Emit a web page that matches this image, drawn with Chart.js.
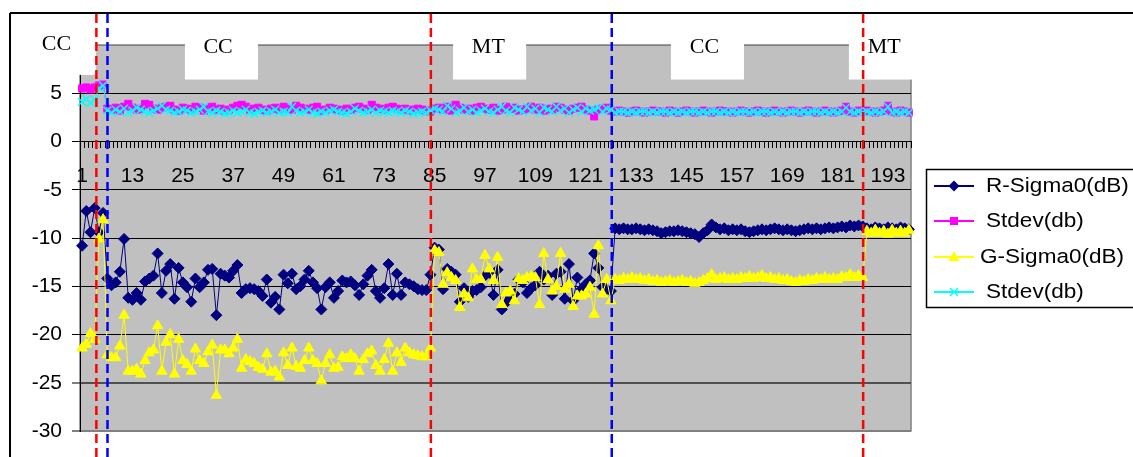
<!DOCTYPE html>
<html><head><meta charset="utf-8">
<script src="https://cdn.jsdelivr.net/npm/chart.js@4.4.0/dist/chart.umd.min.js"></script>
<style>html,body{margin:0;padding:0;background:#fff;}#wrap{position:relative;width:1133px;height:457px;}</style>
</head><body><div id="wrap"><canvas id="c" width="1133" height="457"></canvas></div>
<script>
// ---- data ----
const categories = [];
for (let i = 1; i <= 198; i++) categories.push(String(i));
const xLabelEvery = 12;
const yMin = -30, yMax = 10, yStep = 5;

const rSigma0 = [
 -10.8,-7.2,-9.4,-6.9,-9.4,-7.4,-14.2,-14.9,-14.6,-13.5,
 -10.1,-16.2,-16.4,-15.7,-16.4,-14.5,-14.2,-13.9,-11.6,-15.7,
 -13.4,-12.7,-16.3,-13.1,-14.6,-15.1,-16.6,-14.2,-15.1,-14.6,
 -13.3,-13.2,-18.0,-13.7,-13.9,-14.1,-13.4,-12.8,-15.7,-15.3,
 -15.2,-15.3,-15.5,-16.0,-14.3,-16.7,-16.1,-17.4,-13.8,-14.7,
 -13.7,-15.3,-15.0,-14.3,-13.4,-14.6,-15.2,-17.4,-15.1,-14.6,
 -16.2,-15.5,-14.4,-14.6,-14.5,-14.9,-15.9,-14.8,-13.9,-13.3,
 -15.5,-16.2,-15.2,-12.7,-15.9,-13.7,-15.9,-14.6,-14.8,-15.0,
 -15.3,-15.4,-15.4,-13.8,-11.0,-11.2,-15.3,-13.2,-13.5,-13.8,
 -16.6,-15.2,-16.1,-15.5,-15.4,-15.1,-13.9,-13.6,-15.9,-13.3,
 -17.4,-16.7,-16.1,-15.8,-14.3,-14.6,-15.7,-15.2,-14.9,-13.5,
 -14.3,-13.9,-15.9,-13.7,-13.5,-16.3,-12.7,-16.5,-14.1,-15.3,
 -14.8,-14.4,-11.6,-13.1,-15.1,-15.3,-15.5,-9.0,-9.1,-9.0,
 -9.1,-9.1,-9.0,-9.1,-9.2,-9.1,-9.2,-9.3,-9.5,-9.4,
 -9.3,-9.3,-9.2,-9.3,-9.4,-9.5,-9.6,-9.9,-9.5,-9.2,
 -8.6,-8.9,-9.1,-9.0,-9.2,-9.1,-9.2,-9.1,-9.3,-9.4,
 -9.3,-9.2,-9.1,-9.2,-9.1,-9.0,-9.1,-9.2,-9.1,-9.2,
 -9.3,-9.2,-9.1,-9.0,-9.1,-9.0,-9.1,-9.0,-8.9,-9.0,
 -8.9,-8.8,-8.9,-8.7,-8.8,-8.7,-8.8,-9.0,-9.1,-8.9,
 -9.0,-9.1,-8.9,-9.0,-9.1,-8.9,-9.0,-9.1
];
const stdevR = [
 5.5,5.6,5.4,5.6,5.8,5.9,3.4,3.3,3.5,3.2,
 3.6,3.9,3.5,3.3,3.4,3.9,3.8,3.4,3.3,3.5,
 3.6,3.7,3.3,3.2,3.5,3.4,3.3,3.6,3.5,3.2,
 3.4,3.6,3.3,3.4,3.2,3.3,3.5,3.7,3.8,3.6,
 3.3,3.4,3.5,3.3,3.2,3.4,3.5,3.3,3.6,3.4,
 3.3,3.7,3.5,3.4,3.3,3.5,3.6,3.2,3.3,3.5,
 3.4,3.3,3.2,3.4,3.3,3.5,3.6,3.4,3.3,3.8,
 3.5,3.4,3.3,3.5,3.6,3.4,3.3,3.4,3.2,3.3,
 3.4,3.3,3.2,3.1,3.4,3.5,3.3,3.6,3.2,3.8,
 3.5,3.3,3.4,3.2,3.5,3.6,3.4,3.3,3.5,3.2,
 3.3,3.6,3.4,3.5,3.2,3.3,3.4,3.6,3.3,3.5,
 3.2,3.4,3.3,3.6,3.5,3.3,3.2,3.4,3.5,3.6,
 3.3,3.2,2.6,3.3,3.4,3.5,3.2,3.1,3.2,3.1,
 3.0,3.1,3.2,3.1,3.0,3.1,3.2,3.1,3.1,3.0,
 3.2,3.1,3.0,3.1,3.2,3.1,3.0,3.1,3.2,3.1,
 3.0,3.1,3.2,3.1,3.1,3.0,3.1,3.2,3.1,3.0,
 3.1,3.2,3.1,3.0,3.1,3.2,3.1,3.0,3.1,3.2,
 3.1,3.0,3.1,3.2,3.1,3.0,3.1,3.2,3.1,3.0,
 3.1,3.2,3.6,3.1,3.0,3.2,3.1,3.2,3.1,3.0,
 3.1,3.2,3.7,3.1,3.0,3.2,3.1,3.0
];
const gSigma0 = [
 -21.4,-21.0,-19.9,-20.5,-10.1,-8.1,-22.1,-22.4,-22.4,-21.2,
 -18.0,-23.8,-23.8,-23.6,-24.1,-22.7,-21.9,-21.6,-19.1,-23.8,
 -20.8,-20.0,-24.1,-20.5,-22.7,-23.1,-23.8,-21.5,-22.7,-23.0,
 -21.8,-21.1,-26.3,-21.6,-21.6,-22.0,-21.4,-20.5,-23.5,-22.6,
 -22.8,-23.0,-23.4,-23.6,-22.0,-23.9,-23.8,-24.4,-21.9,-23.2,
 -21.4,-23.3,-23.5,-22.7,-21.4,-22.7,-23.0,-24.8,-23.0,-22.1,
 -23.5,-23.4,-22.3,-22.5,-22.1,-22.5,-23.8,-22.6,-22.0,-21.7,
 -23.2,-23.8,-22.6,-20.9,-23.8,-21.9,-22.9,-21.4,-21.9,-22.1,
 -22.2,-22.3,-22.3,-21.4,-11.3,-11.5,-14.8,-13.6,-14.1,-14.4,
 -17.2,-15.8,-16.2,-13.2,-14.3,-14.3,-11.8,-13.2,-14.4,-12.0,
 -16.9,-15.7,-15.5,-16.5,-14.2,-14.4,-14.1,-14.0,-14.1,-16.9,
 -11.6,-14.3,-15.5,-15.0,-11.6,-15.3,-14.8,-17.1,-16.0,-16.0,
 -15.8,-15.1,-17.9,-10.8,-15.8,-14.3,-16.5,-14.3,-14.4,-14.2,
 -14.3,-14.1,-14.3,-14.2,-14.4,-14.3,-14.5,-14.4,-14.6,-14.5,
 -14.4,-14.6,-14.5,-14.4,-14.6,-14.5,-14.7,-14.6,-14.4,-14.2,
 -13.8,-14.3,-14.2,-14.1,-14.3,-14.2,-14.3,-14.1,-14.2,-14.0,
 -14.2,-14.1,-13.9,-14.2,-14.1,-14.3,-14.2,-14.4,-14.3,-14.5,
 -14.6,-14.4,-14.5,-14.3,-14.4,-14.2,-14.3,-14.1,-14.3,-14.2,
 -14.3,-14.0,-14.1,-13.8,-14.1,-13.9,-14.1,-9.3,-9.5,-9.2,
 -9.5,-9.3,-9.6,-9.2,-9.5,-9.3,-9.5,-9.2
];
const stdevG = [
 4.1,4.4,4.0,4.3,5.5,5.8,3.2,3.0,3.3,3.1,
 3.4,3.0,3.2,3.5,3.3,3.1,3.0,3.2,3.4,3.7,
 3.3,3.2,3.0,3.1,3.3,3.2,3.0,3.1,3.3,3.6,
 3.1,3.0,3.2,3.1,2.9,3.0,3.2,3.0,3.1,3.3,
 3.0,2.9,3.1,3.2,3.0,3.1,3.3,3.0,3.1,3.0,
 3.6,3.2,3.0,3.1,3.3,3.0,2.9,3.1,3.0,3.2,
 3.3,3.1,3.0,2.9,3.1,3.4,3.2,3.0,3.1,3.3,
 3.0,3.2,3.1,3.0,3.2,3.1,3.0,3.2,3.1,2.9,
 3.0,3.1,3.0,3.2,3.4,3.3,3.1,3.7,3.4,3.0,
 3.2,3.5,3.1,3.3,3.0,3.2,3.4,3.1,3.0,3.3,
 3.6,3.2,3.0,3.5,3.3,3.1,3.6,3.2,3.4,3.0,
 3.5,3.3,3.1,3.6,3.2,3.4,3.0,3.3,3.5,3.1,
 3.4,3.2,3.3,3.5,3.1,3.4,3.3,3.0,3.1,3.1,
 3.0,3.1,3.0,3.1,3.1,3.0,3.1,3.0,3.1,3.1,
 3.0,3.1,3.0,3.1,3.0,3.1,3.1,3.0,3.1,3.0,
 3.1,3.1,3.0,3.1,3.0,3.1,3.0,3.1,3.1,3.0,
 3.1,3.0,3.1,3.1,3.0,3.1,3.0,3.1,3.0,3.1,
 3.1,3.0,3.1,3.0,3.1,3.1,3.0,3.1,3.0,3.1,
 3.0,3.1,3.5,3.1,3.0,3.1,3.0,3.1,3.0,3.1,
 3.0,3.1,3.6,3.0,3.1,3.0,3.1,3.0
];
const seriesNames = ['R-Sigma0(dB)', 'Stdev(db)', 'G-Sigma0(dB)', 'Stdev(db)'];

// annotation positions (category index units / value units)
const boundaries = [
  {x: 3.4, color: '#FF0000'}, {x: 6.05, color: '#0000FF'},
  {x: 83.1, color: '#FF0000'}, {x: 126.2, color: '#0000FF'}, {x: 186.1, color: '#FF0000'}
];
const zoneBoxes = [
  {from: null, to: 3.3, bottom: 6.9},
  {from: 24.5, to: 41.9, bottom: 6.42},
  {from: 88.4, to: 105.8, bottom: 6.42},
  {from: 140.3, to: 157.7, bottom: 6.42},
  {from: 182.7, to: null, bottom: 6.42}
];
const zoneLabels = [
  {text: 'CC', x: -6.1, y: 10.0},
  {text: 'CC', x: 32.4, y: 9.7},
  {text: 'MT', x: 96.8, y: 9.7},
  {text: 'CC', x: 148.3, y: 9.7},
  {text: 'MT', x: 191.1, y: 9.7}
];

const SANS = "'Liberation Sans', Arial, sans-serif";
const SERIF = "'Liberation Serif', 'Times New Roman', serif";
const colors = ['#000080', '#FF00FF', '#FFFF00', '#00FFFF'];
const styles = ['rectRot', 'rect', 'triangle', 'crossRot'];

function marker(ctx, style, x, y, color) {
  ctx.save();
  ctx.fillStyle = color; ctx.strokeStyle = color; ctx.lineWidth = 1.5;
  ctx.beginPath();
  if (style === 'rectRot') { ctx.moveTo(x, y - 5.5); ctx.lineTo(x + 5.5, y); ctx.lineTo(x, y + 5.5); ctx.lineTo(x - 5.5, y); ctx.closePath(); ctx.fill(); }
  else if (style === 'rect') { ctx.fillRect(x - 4, y - 4, 8, 8); }
  else if (style === 'triangle') { ctx.moveTo(x, y - 6); ctx.lineTo(x + 5.5, y + 4); ctx.lineTo(x - 5.5, y + 4); ctx.closePath(); ctx.fill(); }
  else { ctx.moveTo(x - 4, y - 4); ctx.lineTo(x + 4, y + 4); ctx.moveTo(x + 4, y - 4); ctx.lineTo(x - 4, y + 4); ctx.stroke(); }
  ctx.restore();
}
function stretchText(ctx, text, x, y, font, align) {
  ctx.save();
  ctx.font = font; ctx.fillStyle = '#000'; ctx.textBaseline = 'middle';
  ctx.translate(x, y); ctx.scale(1.1, 1);
  ctx.textAlign = align;
  ctx.fillText(text, 0, 0);
  ctx.restore();
}

const decor = {
  id: 'decor',
  beforeDraw(chart) {
    const {ctx, chartArea: a} = chart;
    ctx.save();
    ctx.fillStyle = '#fff'; ctx.fillRect(0, 0, chart.width, chart.height);
    ctx.fillStyle = '#C0C0C0'; ctx.fillRect(a.left, a.top, a.right - a.left, a.bottom - a.top);
    ctx.strokeStyle = '#808080'; ctx.lineWidth = 1.5;
    ctx.strokeRect(a.left, a.top, a.right - a.left, a.bottom - a.top);
    ctx.restore();
  },
  afterDraw(chart) {
    const {ctx, chartArea: a} = chart;
    const xs = chart.scales.x, ys = chart.scales.y;
    ctx.save();
    // zone boxes
    ctx.fillStyle = '#fff';
    zoneBoxes.forEach(b => {
      const x1 = b.from === null ? 11 : xs.getPixelForValue(b.from);
      const x2 = b.to === null ? a.right + 2 : xs.getPixelForValue(b.to);
      const y1 = b.from === null ? 14 : a.top - 2;
      const y2 = ys.getPixelForValue(b.bottom);
      ctx.fillRect(x1, y1, x2 - x1, y2 - y1);
    });
    zoneLabels.forEach(l => stretchText(ctx, l.text, xs.getPixelForValue(l.x), ys.getPixelForValue(l.y), '20px ' + SERIF, 'center'));
    // dashed boundaries
    ctx.lineWidth = 2.5; ctx.setLineDash([9, 5]);
    boundaries.forEach(b => {
      const x = xs.getPixelForValue(b.x);
      ctx.strokeStyle = b.color; ctx.beginPath(); ctx.moveTo(x, 14); ctx.lineTo(x, chart.height); ctx.stroke();
    });
    ctx.setLineDash([]);
    // legend
    const lx = 926, ly = 169, lw = 230, lh = 138;
    ctx.fillStyle = '#fff'; ctx.fillRect(lx, ly, lw, lh);
    ctx.strokeStyle = '#000'; ctx.lineWidth = 1.5; ctx.strokeRect(lx + 0.5, ly + 0.5, lw, lh);
    const rowY = [186, 221, 257, 292], textX = [986, 986, 980, 986];
    seriesNames.forEach((name, i) => {
      ctx.strokeStyle = colors[i]; ctx.lineWidth = 2;
      ctx.beginPath(); ctx.moveTo(934, rowY[i]); ctx.lineTo(974, rowY[i]); ctx.stroke();
      marker(ctx, styles[i], 954, rowY[i], colors[i]);
      stretchText(ctx, name, textX[i], rowY[i], '20.5px ' + SANS, 'left');
    });
    // frame
    ctx.strokeStyle = '#000'; ctx.lineWidth = 2;
    ctx.beginPath(); ctx.moveTo(10, 13); ctx.lineTo(chart.width, 13); ctx.moveTo(10, 13); ctx.lineTo(10, chart.height); ctx.stroke();
    ctx.restore();
  }
};

const ds = (label, data, i, radius, extra) => Object.assign({
  label, data, borderColor: colors[i], backgroundColor: colors[i], borderWidth: 1,
  pointStyle: styles[i], pointRadius: radius, pointBorderWidth: 1, tension: 0, clip: false
}, extra || {});

new Chart(document.getElementById('c'), {
  type: 'line',
  data: {
    labels: categories,
    datasets: [
      ds(seriesNames[0], rSigma0, 0, 5.5, {order: 4}),
      ds(seriesNames[1], stdevR, 1, 5, {order: 3}),
      ds(seriesNames[2], gSigma0, 2, 6, {order: 2}),
      ds(seriesNames[3], stdevG, 3, 5.5, {order: 1, pointBorderWidth: 1.5})
    ]
  },
  options: {
    responsive: false, animation: false, events: [],
    layout: {padding: {top: 45, right: 222, bottom: 26, left: 0}},
    plugins: {legend: {display: false}, tooltip: {enabled: false}},
    scales: {
      x: {
        type: 'category', position: {y: 0}, offset: true,
        grid: {drawOnChartArea: false, offset: true, tickLength: 6, tickColor: '#000', lineWidth: 1},
        border: {color: '#000', width: 1},
        ticks: {autoSkip: false, maxRotation: 0, minRotation: 0, padding: 16, color: '#000',
          font: {family: SANS, size: 21},
          callback: (v, i) => (i % xLabelEvery === 0 ? categories[i] : '')}
      },
      y: {
        min: yMin, max: yMax,
        ticks: {stepSize: yStep, padding: 10, color: '#000', font: {family: SANS, size: 21},
          callback: v => (v === yMax ? '' : v)},
        grid: {
          color: c => (c.tick && (c.tick.value === yMin || c.tick.value === yMax)) ? '#808080' : (c.tick && c.tick.value === -25 ? '#505050' : '#000'),
          lineWidth: c => (c.tick && (c.tick.value === -25 || c.tick.value === yMin)) ? 2 : 1,
          tickColor: '#000', tickWidth: 1, tickLength: 8
        },
        border: {color: '#000', width: 1},
        afterFit(s) { s.width = 80; }
      }
    }
  },
  plugins: [decor]
});
</script></body></html>
